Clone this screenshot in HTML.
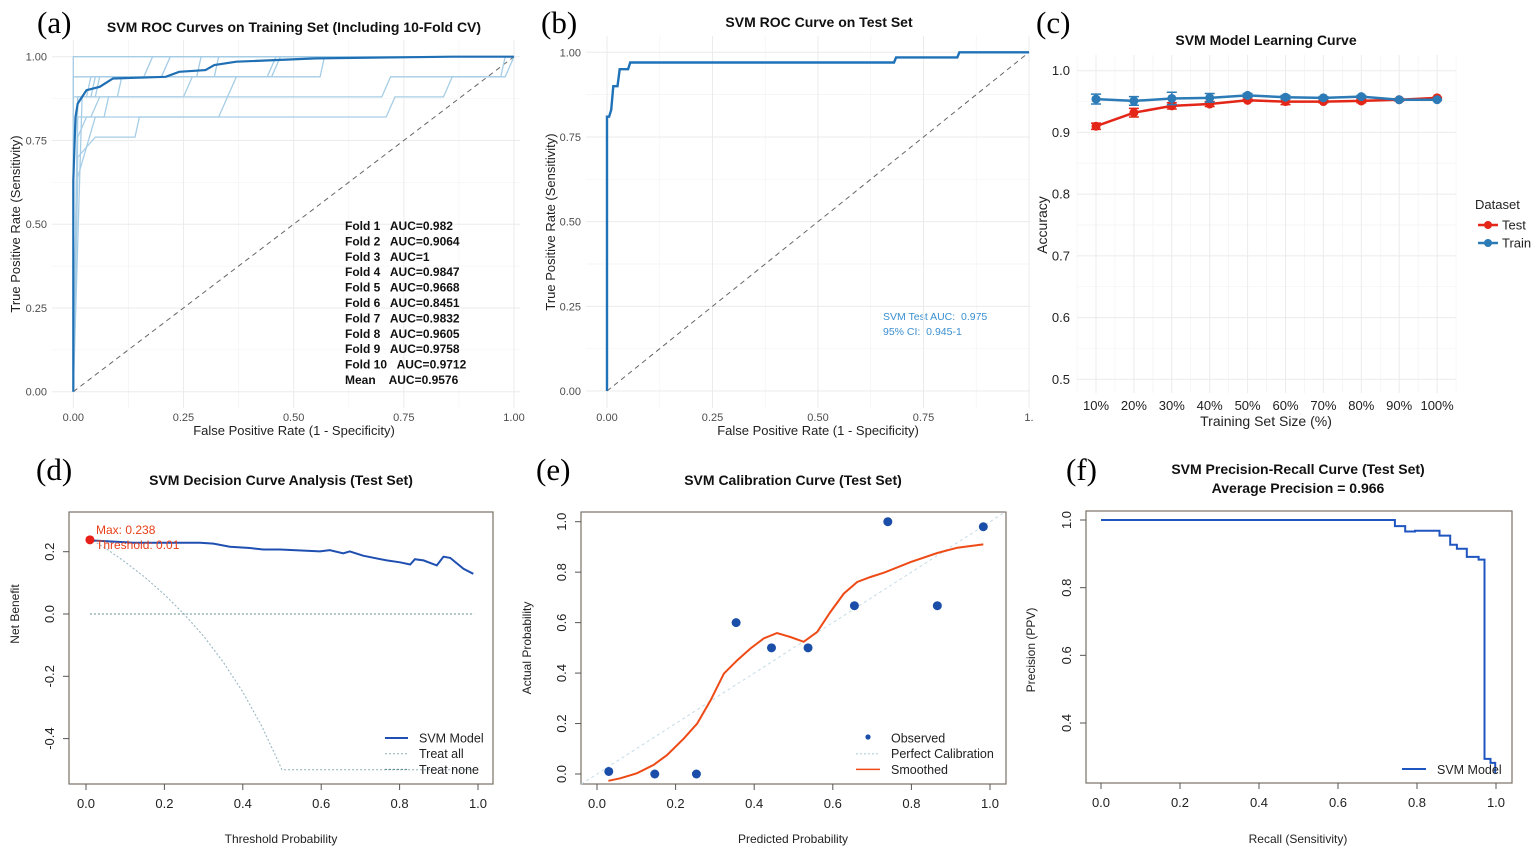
<!DOCTYPE html>
<html><head><meta charset="utf-8">
<style>
html,body{margin:0;padding:0;background:#fff;}
svg{display:block;font-family:"Liberation Sans",Arial,sans-serif;}
.ser{font-family:"Liberation Serif",serif;}
.tk{font-size:11px;fill:#4d4d4d;}
.tkb{font-size:13px;fill:#222;}
.ttl{font-size:14px;font-weight:bold;fill:#111;}
.pre{white-space:pre;}
</style></head>
<body>
<svg id="fig" width="1535" height="853" viewBox="0 0 1535 853">
<g id="pa">
<text class="ser" x="37" y="33" font-size="31">(a)</text>
<text class="ttl" x="294" y="32" text-anchor="middle">SVM ROC Curves on Training Set (Including 10-Fold CV)</text>
<text x="294" y="435" text-anchor="middle" font-size="13" fill="#222">False Positive Rate (1 - Specificity)</text>
<text transform="translate(20,224) rotate(-90)" text-anchor="middle" font-size="13" fill="#222">True Positive Rate (Sensitivity)</text>
<g id="pa-legend" font-size="12" font-weight="bold" fill="#111"></g>
</g>
<g id="pb">
<text class="ser" x="541" y="33" font-size="31">(b)</text>
<text class="ttl" x="819" y="27" text-anchor="middle">SVM ROC Curve on Test Set</text>
<text x="818" y="435" text-anchor="middle" font-size="13" fill="#222">False Positive Rate (1 - Specificity)</text>
<text transform="translate(555,222) rotate(-90)" text-anchor="middle" font-size="13" fill="#222">True Positive Rate (Sensitivity)</text>
<text class="pre" x="883" y="320" font-size="10.5" fill="#3a8fd0">SVM Test AUC:  0.975</text>
<text class="pre" x="883" y="335" font-size="10.5" fill="#3a8fd0">95% CI:  0.945-1</text>
</g>
<g id="pc">
<text class="ser" x="1036" y="33" font-size="31">(c)</text>
<text class="ttl" x="1266" y="45" text-anchor="middle" font-size="16">SVM Model Learning Curve</text>
<text x="1266" y="426" text-anchor="middle" font-size="14" fill="#222">Training Set Size (%)</text>
<text transform="translate(1047,225) rotate(-90)" text-anchor="middle" font-size="14" fill="#222">Accuracy</text>
<text x="1475" y="209" font-size="13" fill="#222">Dataset</text>
<g><line x1="1478" y1="225" x2="1498" y2="225" stroke="#e32618" stroke-width="2.5"/><circle cx="1488" cy="225" r="4" fill="#e32618"/><text x="1502" y="229.5" font-size="13" fill="#222">Test</text></g>
<g><line x1="1478" y1="243" x2="1498" y2="243" stroke="#2c7bb6" stroke-width="2.5"/><circle cx="1488" cy="243" r="4" fill="#2c7bb6"/><text x="1502" y="247.5" font-size="13" fill="#222">Train</text></g>
</g>
<g id="pd">
<text class="ser" x="36" y="480" font-size="31">(d)</text>
<text class="ttl" x="281" y="485" text-anchor="middle">SVM Decision Curve Analysis (Test Set)</text>
<text x="281" y="843" text-anchor="middle" font-size="12" fill="#222">Threshold Probability</text>
<text transform="translate(19,614) rotate(-90)" text-anchor="middle" font-size="12" fill="#222">Net Benefit</text>
</g>
<g id="pe">
<text class="ser" x="536" y="480" font-size="31">(e)</text>
<text class="ttl" x="793" y="485" text-anchor="middle">SVM Calibration Curve (Test Set)</text>
<text x="793" y="843" text-anchor="middle" font-size="12" fill="#222">Predicted Probability</text>
<text transform="translate(531,648) rotate(-90)" text-anchor="middle" font-size="12" fill="#222">Actual Probability</text>
</g>
<g id="pf">
<text class="ser" x="1066" y="480" font-size="31">(f)</text>
<text class="ttl" x="1298" y="474" text-anchor="middle">SVM Precision-Recall Curve (Test Set)</text>
<text class="ttl" x="1298" y="493" text-anchor="middle">Average Precision = 0.966</text>
<text x="1298" y="843" text-anchor="middle" font-size="12" fill="#222">Recall (Sensitivity)</text>
<text transform="translate(1035,650) rotate(-90)" text-anchor="middle" font-size="12" fill="#222">Precision (PPV)</text>
</g>
</svg>
<script>
// ---- Panel a data ----
const foldLabels = ["Fold 1   AUC=0.982","Fold 2   AUC=0.9064","Fold 3   AUC=1","Fold 4   AUC=0.9847","Fold 5   AUC=0.9668","Fold 6   AUC=0.8451","Fold 7   AUC=0.9832","Fold 8   AUC=0.9605","Fold 9   AUC=0.9758","Fold 10   AUC=0.9712","Mean    AUC=0.9576"];
const fold1 = [[0,0],[0,0.94],[0.02,0.94],[0.2,0.94],[0.22,1],[1,1]];
const fold2 = [[0,0],[0.01,0.7],[0.05,0.76],[0.14,0.76],[0.15,0.82],[0.33,0.82],[0.35,0.88],[0.7,0.88],[0.72,0.94],[0.98,0.94],[1,1]];
const fold3 = [[0,0],[0,1],[1,1]];
const fold4 = [[0,0],[0.01,0.88],[0.04,0.88],[0.05,0.94],[0.32,0.94],[0.33,1],[1,1]];
const fold5 = [[0,0],[0.01,0.82],[0.04,0.82],[0.06,0.88],[0.25,0.88],[0.27,0.94],[0.44,0.94],[0.46,1],[1,1]];
const fold6 = [[0,0],[0.01,0.64],[0.05,0.82],[0.71,0.82],[0.73,0.88],[0.84,0.88],[0.86,0.94],[0.97,0.94],[0.98,1],[1,1]];
const fold7 = [[0,0],[0,0.88],[0.03,0.88],[0.04,0.94],[0.16,0.94],[0.18,1],[1,1]];
const fold8 = [[0,0],[0.01,0.76],[0.03,0.82],[0.07,0.82],[0.08,0.88],[0.35,0.88],[0.37,0.94],[0.56,0.94],[0.57,1],[1,1]];
const fold9 = [[0,0],[0.01,0.88],[0.05,0.88],[0.06,0.94],[0.28,0.94],[0.29,1],[1,1]];
const fold10 = [[0,0],[0.02,0.88],[0.1,0.88],[0.11,0.94],[0.45,0.94],[0.47,1],[1,1]];
const meanRoc = [[0,0],[0,0.63],[0.005,0.82],[0.01,0.86],[0.02,0.88],[0.03,0.9],[0.06,0.91],[0.09,0.935],[0.21,0.94],[0.24,0.955],[0.3,0.96],[0.32,0.975],[0.37,0.985],[0.55,0.995],[0.86,1],[1,1]];
const rocTicks = [0,0.25,0.5,0.75,1];
const rocTickLabels = ["0.00","0.25","0.50","0.75","1.00"];
// ---- Panel b data ----
const testRoc = [[0,0],[0,0.81],[0.005,0.81],[0.01,0.83],[0.015,0.9],[0.025,0.9],[0.03,0.95],[0.05,0.95],[0.055,0.97],[0.68,0.97],[0.685,0.985],[0.83,0.985],[0.835,1],[1,1]];
// ---- Panel c data ----
const sizeLabels = ["10%","20%","30%","40%","50%","60%","70%","80%","90%","100%"];
const testAcc = [0.910,0.932,0.943,0.946,0.952,0.950,0.950,0.951,0.953,0.956];
const testErr = [0.005,0.007,0.005,0.004,0.002,0.005,0.002,0.003,0.002,0.001];
const trainAcc = [0.954,0.951,0.955,0.956,0.960,0.957,0.956,0.958,0.953,0.953];
const trainErr = [0.008,0.007,0.010,0.007,0.003,0.003,0.002,0.002,0.001,0.001];
const accTicks = [0.5,0.6,0.7,0.8,0.9,1.0];
// ---- Panel d data ----
const dcaThresh = [0.006,0.121,0.291,0.325,0.367,0.418,0.452,0.495,0.597,0.622,0.656,0.673,0.707,0.767,0.801,0.827,0.839,0.861,0.895,0.912,0.929,0.963,0.988];
const dcaModel = [0.237,0.229,0.229,0.226,0.216,0.212,0.207,0.207,0.201,0.205,0.195,0.201,0.187,0.172,0.166,0.159,0.176,0.172,0.156,0.184,0.180,0.145,0.129];
const allThresh = [0.01,0.05,0.1,0.15,0.2,0.25,0.3,0.35,0.4,0.45,0.5,0.99];
const allNB = [0.242,0.211,0.167,0.118,0.0625,0,-0.071,-0.154,-0.25,-0.364,-0.5,-0.5];
const noneThresh = [0.01,0.99];
const noneNB = [0,0];
const dcaMax = [0.01,0.238];
const probTicks = [0,0.2,0.4,0.6,0.8,1.0];
const nbTicks = [-0.4,-0.2,0,0.2];
// ---- Panel e data ----
const calPred = [0.03,0.147,0.253,0.354,0.444,0.537,0.655,0.74,0.866,0.983];
const calObs = [0.01,0,0,0.6,0.5,0.5,0.667,1.0,0.667,0.98];
const smoothX = [0.029,0.059,0.102,0.144,0.178,0.221,0.255,0.289,0.323,0.357,0.390,0.424,0.458,0.492,0.526,0.560,0.594,0.628,0.662,0.696,0.730,0.798,0.866,0.917,0.983];
const smoothY = [-0.027,-0.017,0.003,0.036,0.075,0.141,0.2,0.292,0.398,0.451,0.497,0.537,0.559,0.543,0.524,0.563,0.642,0.715,0.761,0.781,0.798,0.840,0.876,0.897,0.910];
// ---- Panel f data ----
const prRecall = [0,0.744,0.770,0.795,0.857,0.884,0.901,0.926,0.956,0.971,0.986,0.998];
const prPrecision = [1.0,0.982,0.966,0.968,0.954,0.927,0.915,0.891,0.883,0.294,0.282,0.252];
const prTicksY = [0.4,0.6,0.8,1.0];

const NS = "http://www.w3.org/2000/svg";
function mk(tag, attrs, parent){const e=document.createElementNS(NS,tag);for(const k in attrs)e.setAttribute(k,attrs[k]);parent.appendChild(e);return e;}
function lin(d0,d1,r0,r1){return v=>r0+(v-d0)/(d1-d0)*(r1-r0);}
function pathD(pts,sx,sy){return pts.map((p,i)=>(i?'L':'M')+sx(p[0]).toFixed(1)+','+sy(p[1]).toFixed(1)).join('');}
function zip(a,b){return a.map((v,i)=>[v,b[i]]);}
function stepPts(xs,ys){const o=[];for(let i=0;i<xs.length;i++){if(i>0)o.push([xs[i],ys[i-1]]);o.push([xs[i],ys[i]]);}return o;}

function ggPanel(g,x0,x1,y0,y1,sx,sy,xt,yt,minorX,minorY){
  minorY.forEach(v=>{const l=mk('line',{x1:x0,x2:x1,y1:sy(v),y2:sy(v),stroke:'#f3f3f3','stroke-width':0.7},g);
    
    });
  minorX.forEach(v=>{const l=mk('line',{x1:sx(v),x2:sx(v),y1:y0,y2:y1,stroke:'#f3f3f3','stroke-width':0.7},g);
    
    });
  yt.forEach(v=>{const l=mk('line',{x1:x0,x2:x1,y1:sy(v),y2:sy(v),stroke:'#ebebeb','stroke-width':1},g);
    
    });
  xt.forEach(v=>{const l=mk('line',{x1:sx(v),x2:sx(v),y1:y0,y2:y1,stroke:'#ebebeb','stroke-width':1},g);
    
    });
}
function addLabel(g,x,y,txt,cls,anchor,rot){
  const t=mk('text',{x:x,y:y,'class':cls,'text-anchor':anchor||'middle'},g);
  if(rot)t.setAttribute('transform','rotate(-90 '+x+' '+y+')');
  t.textContent=txt;
  
  
  return t;
}

// ===== Panel a =====
(function(){
  const g=document.getElementById('pa');
  const sx=lin(0,1,73.3,514), sy=lin(0,1,391.7,56.7);
  ggPanel(g,52,520,40,408,sx,sy,rocTicks,rocTicks,[0.125,0.375,0.625,0.875],[0.125,0.375,0.625,0.875]);
  rocTicks.forEach((v,i)=>{addLabel(g,sx(v),421,rocTickLabels[i],'tk');addLabel(g,47,sy(v)+4,rocTickLabels[i],'tk','end');});
  const dg=mk('line',{x1:sx(0),y1:sy(0),x2:sx(1),y2:sy(1),stroke:'#666','stroke-width':1,'stroke-dasharray':'5,4'},g);
  
  
  [fold1,fold2,fold3,fold4,fold5,fold6,fold7,fold8,fold9,fold10].forEach((f,i)=>{
    const p=mk('path',{d:pathD(f,sx,sy),fill:'none',stroke:'#a6cde6','stroke-width':1.3},g);
    
    
  });
  const m=mk('path',{d:pathD(meanRoc,sx,sy),fill:'none',stroke:'#1f6fb4','stroke-width':2.2},g);
  
  
  const lg=document.getElementById('pa-legend');
  g.appendChild(lg);
  foldLabels.forEach((s,i)=>{const t=mk('text',{x:345,y:230+i*15.4,'class':'pre'},lg);t.textContent=s;
    
    });
})();

// ===== Panel b =====
(function(){
  const g=document.getElementById('pb');
  const sx=lin(0,1,607,1029), sy=lin(0,1,391,52.3);
  ggPanel(g,586,1030,36,408,sx,sy,rocTicks,rocTicks,[0.125,0.375,0.625,0.875],[0.125,0.375,0.625,0.875]);
  rocTicks.forEach((v,i)=>{addLabel(g,sx(v),421,i==4?'1.':rocTickLabels[i],'tk');addLabel(g,581,sy(v)+4,rocTickLabels[i],'tk','end');});
  const dg=mk('line',{x1:sx(0),y1:sy(0),x2:sx(1),y2:sy(1),stroke:'#666','stroke-width':1,'stroke-dasharray':'5,4'},g);
  
  
  const p=mk('path',{d:pathD(testRoc,sx,sy),fill:'none',stroke:'#1f72b8','stroke-width':2.4},g);
  
  
})();

// ===== Panel c =====
(function(){
  const g=document.getElementById('pc');
  const sx=i=>1096+i*37.9, sy=lin(0.5,1.0,379.3,70.7);
  const xi=sizeLabels.map((_,i)=>i);
  ggPanel(g,1077,1456,55,393,sx,sy,xi,accTicks,xi.map(i=>i+0.5).concat([-0.5]),[0.55,0.65,0.75,0.85,0.95]);
  sizeLabels.forEach((s,i)=>addLabel(g,sx(i),410,s,'tkb'));
  accTicks.forEach(v=>addLabel(g,1070,sy(v)+4.5,v.toFixed(1),'tkb','end'));
  [[testAcc,testErr,'#e32618','test'],[trainAcc,trainErr,'#2c7bb6','train']].forEach(([a,e,c,n])=>{
    const p=mk('path',{d:pathD(zip(xi,a),sx,sy),fill:'none',stroke:c,'stroke-width':2.5},g);
    
    
    a.forEach((v,i)=>{
      const eb=mk('path',{d:'M'+(sx(i)-5)+','+sy(v+e[i])+'H'+(sx(i)+5)+'M'+sx(i)+','+sy(v+e[i])+'V'+sy(v-e[i])+'M'+(sx(i)-5)+','+sy(v-e[i])+'H'+(sx(i)+5),stroke:c,'stroke-width':1.5,fill:'none'},g);
      
      
      const d=mk('circle',{cx:sx(i),cy:sy(v),r:4.5,fill:c},g);
      
      
    });
  });
})();

function baseAxes(g,box,sx,sy,xt,yt,xfmt,yfmt){
  const b=mk('rect',{x:box[0],y:box[1],width:box[2]-box[0],height:box[3]-box[1],fill:'none',stroke:'#7a7068','stroke-width':1.2},g);
  
  
  xt.forEach(v=>{const t=mk('line',{x1:sx(v),x2:sx(v),y1:box[3],y2:box[3]+6,stroke:'#555'},g);
    
    
    addLabel(g,sx(v),box[3]+24,xfmt(v),'tkb');});
  yt.forEach(v=>{const t=mk('line',{x1:box[0]-6,x2:box[0],y1:sy(v),y2:sy(v),stroke:'#555'},g);
    
    
    addLabel(g,box[0]-15,sy(v),yfmt(v),'tkb','middle',true);});
}
const f1=v=>v.toFixed(1);

// ===== Panel d =====
(function(){
  const g=document.getElementById('pd');
  const sx=lin(0,1,86,478), sy=lin(0,0.2,614,551.7);
  baseAxes(g,[69,512,493,784],sx,sy,probTicks,nbTicks,f1,f1);
  const a=mk('path',{d:pathD(zip(allThresh,allNB),sx,sy),fill:'none',stroke:'#9ab8c4','stroke-width':1.1,'stroke-dasharray':'2,2'},g);
  
  
  const n=mk('path',{d:pathD(zip(noneThresh,noneNB),sx,sy),fill:'none',stroke:'#5f8f94','stroke-width':1.1,'stroke-dasharray':'2,2'},g);
  
  
  const m=mk('path',{d:pathD(zip(dcaThresh,dcaModel),sx,sy),fill:'none',stroke:'#1f4fb0','stroke-width':2},g);
  
  
  const c=mk('circle',{cx:sx(dcaMax[0]),cy:sy(dcaMax[1]),r:4.5,fill:'#e8201a'},g);
  
  
  const t1=mk('text',{x:96,y:534,'font-size':12,fill:'#e8401a'},g);t1.textContent='Max: 0.238';
  
  
  const t2=mk('text',{x:96,y:549,'font-size':12,fill:'#e8401a'},g);t2.textContent='Threshold: 0.01';
  
  
  [['SVM Model','#1f4fb0',0,2],['Treat all','#9ab8c4','2,2',1.1],['Treat none','#5f8f94','2,2',1.1]].forEach((e,i)=>{
    const y=738+i*15.7;
    const l=mk('line',{x1:385,x2:408,y1:y,y2:y,stroke:e[1],'stroke-width':e[3]},g);
    if(e[2])l.setAttribute('stroke-dasharray',e[2]);
    
    
    const t=mk('text',{x:419,y:y+4.5,'font-size':12.5,fill:'#222'},g);t.textContent=e[0];
    
    
  });
})();

// ===== Panel e =====
(function(){
  const g=document.getElementById('pe');
  const sx=lin(0,1,597,990), sy=lin(0,1,774,521.7);
  baseAxes(g,[581,512,1006,784],sx,sy,probTicks,probTicks,f1,f1);
  const d=mk('line',{x1:sx(-0.04),y1:sy(-0.04),x2:sx(1.04),y2:sy(1.04),stroke:'#c4dbe6','stroke-width':1,'stroke-dasharray':'3,3'},g);
  
  
  const s=mk('path',{d:pathD(zip(smoothX,smoothY),sx,sy),fill:'none',stroke:'#ee4a16','stroke-width':2},g);
  
  
  calPred.forEach((v,i)=>{const c=mk('circle',{cx:sx(v),cy:sy(calObs[i]),r:4.5,fill:'#1a4ea8'},g);
    
    });
  const items=[['Observed','pt'],['Perfect Calibration','#c4dbe6'],['Smoothed','#ee4a16']];
  items.forEach((e,i)=>{
    const y=738+i*15.7;
    let sw;
    if(e[1]=='pt'){sw=mk('circle',{cx:868,cy:y-1,r:2.6,fill:'#1a4ea8'},g);}
    else{sw=mk('line',{x1:856,x2:880,y1:y,y2:y,stroke:e[1],'stroke-width':1.5},g);if(i==1)sw.setAttribute('stroke-dasharray','2,2');}
    
    
    const t=mk('text',{x:891,y:y+4.5,'font-size':12.5,fill:'#222'},g);t.textContent=e[0];
    
    
  });
})();

// ===== Panel f =====
(function(){
  const g=document.getElementById('pf');
  const sx=lin(0,1,1101,1496), sy=lin(0.4,1.0,723,520);
  baseAxes(g,[1086,511,1512,783],sx,sy,probTicks,prTicksY,f1,f1);
  const p=mk('path',{d:pathD(stepPts(prRecall,prPrecision),sx,sy),fill:'none',stroke:'#1f55c0','stroke-width':2},g);
  
  
  const l=mk('line',{x1:1402,x2:1426,y1:769,y2:769,stroke:'#1f55c0','stroke-width':2},g);
  
  
  const t=mk('text',{x:1437,y:774,'font-size':12.5,fill:'#222'},g);t.textContent='SVM Model';
  
  
})();
</script>
</body></html>
